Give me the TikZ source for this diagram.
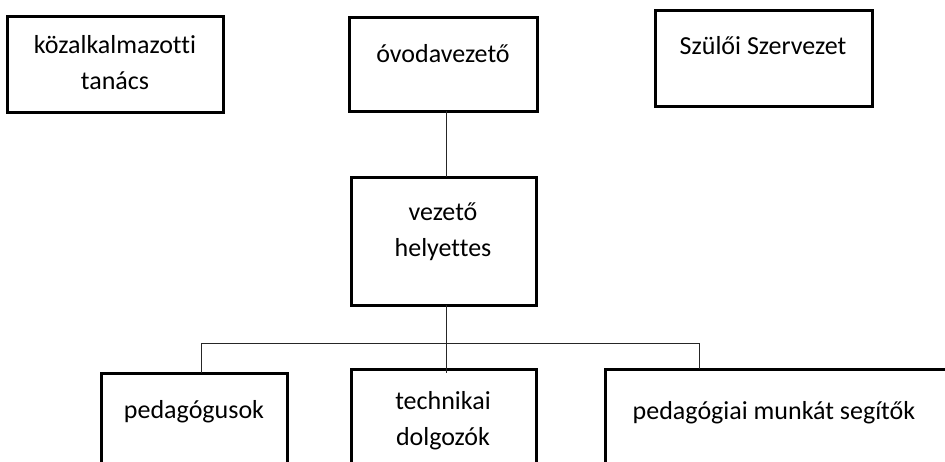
\documentclass[tikz,border=0pt]{standalone}
\usepackage{fontspec}
\setmainfont{Carlito}[Ligatures=NoCommon]
\usetikzlibrary{calc}
\begin{document}
\begin{tikzpicture}[x=1pt,y=-1pt,
  orgbox/.style={draw=black,line width=3pt,fill=white,inner sep=0pt,outer sep=0pt,rectangle},
  boxtext/.style={inner sep=0pt,outer sep=0pt,anchor=base,align=center,font=\fontsize{26}{35.5}\selectfont},
  conn/.style={draw=black!85,line width=1pt}]
\useasboundingbox (0,0) rectangle (945,461);
\clip (0,0) rectangle (945,461);
\fill[white] (0,0) rectangle (945,461);
% boxes
\node[orgbox,minimum width=216pt,minimum height=96pt] (b1) at (115,64) {};
\node[orgbox,minimum width=188pt,minimum height=94pt] (b2) at (443,64) {};
\node[orgbox,minimum width=217pt,minimum height=96pt] (b3) at (763.5,58) {};
\node[orgbox,minimum width=185pt,minimum height=128pt] (b4) at (443.5,241) {};
\node[orgbox,minimum width=186pt,minimum height=120pt] (b5) at (194,433) {};
\node[orgbox,minimum width=185pt,minimum height=120pt] (b6) at (443.5,429) {};
\node[orgbox,minimum width=345pt,minimum height=120pt] (b7) at (777.5,429) {};
% texts (base anchor = last line)
\node[boxtext] (t1) at (115,89) {közalkalmazotti\\tanács};
\node[boxtext] (t2) at (443,62) {óvodavezető};
\node[boxtext] (t3) at (763,54) {Szülői Szervezet};
\node[boxtext] (t4) at (443,256) {vezető\\helyettes};
\node[boxtext] (t5) at (194,418) {pedagógusok};
\node[boxtext] (t6) at (443,445) {technikai\\dolgozók};
\node[boxtext] (t7) at (774,419) {pedagógiai munkát segítők};
% connectors
\coordinate (jl) at (201,343);
\coordinate (jm) at (446,343);
\coordinate (jr) at (699,343);
\coordinate (tend) at (446,373);
\draw[conn] (b2.south -| jm) -- (b4.north -| jm);
\draw[conn] (b4.south -| jm) -- (tend);
\draw[conn] (b5.north -| jl) -- (jl) -- (jr) -- (b7.north -| jr);
\end{tikzpicture}
\end{document}
